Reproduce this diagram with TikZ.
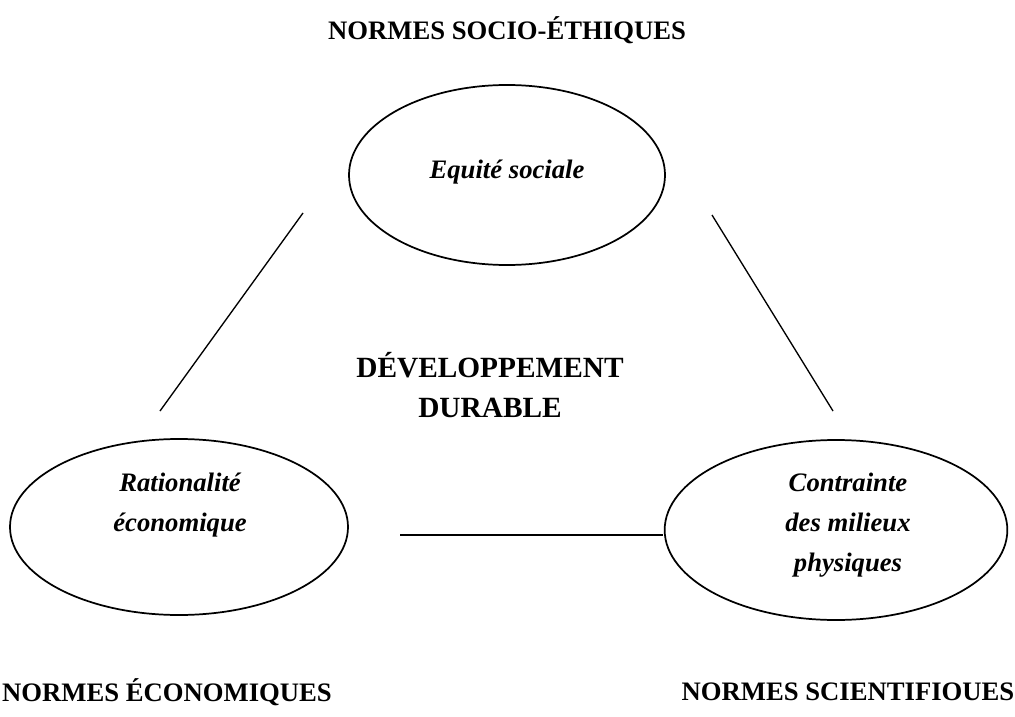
\documentclass[tikz,border=0pt]{standalone}
\usepackage{fontspec}
\setmainfont{Liberation Serif}
\usepackage{tikz}
\usetikzlibrary{shapes.geometric, positioning}

\begin{document}
\begin{tikzpicture}[x=0.75pt, y=-0.75pt,
pole/.style={ellipse, draw=black, line width=1.3pt, inner sep=0pt},
norme/.style={font=\fontsize{20}{24}\selectfont\bfseries, inner sep=0pt},
valeur/.style={font=\fontsize{20}{30}\selectfont\bfseries\itshape, align=center, inner sep=0pt},
lien/.style={line width=1pt}]
\useasboundingbox (0,0) rectangle (1015,717);
% the three poles
\node[pole, minimum width=237pt, minimum height=135pt] (social) at (507,175) {};
\node[pole, minimum width=253.5pt, minimum height=132pt] (economie) at (179,527) {};
\node[pole, minimum width=257pt, minimum height=135pt] (milieux) at (836,530) {};
\node[valeur] (equite) at (507,172) {Equité sociale};
\node[valeur] (rationalite) at (180,505) {Rationalité\\économique};
\node[valeur] (contrainte) at (848,525) {Contrainte\\des milieux\\physiques};
% norms
\node[norme] (socioethique) at (507,30) {NORMES SOCIO-ÉTHIQUES};
\node[norme] (normeeco) at (167,692) {NORMES ÉCONOMIQUES};
\node[norme] (normesci) at (848,692) {NORMES SCIENTIFIOUES};
\node[norme, align=center, font=\fontsize{22}{30}\selectfont\bfseries] (dd) at (490,385) {DÉVELOPPEMENT\\DURABLE};
% links between poles
\coordinate (gaucheH) at (303,213);
\coordinate (gaucheB) at (160,411);
\coordinate (droiteH) at (712,215);
\coordinate (droiteB) at (833,411);
\coordinate (basG) at (400,535);
\coordinate (basD) at (663,535);
\draw[lien] (gaucheH) -- (gaucheB);
\draw[lien] (droiteH) -- (droiteB);
\draw[lien] (basG) -- (basD);
\end{tikzpicture}
\end{document}
